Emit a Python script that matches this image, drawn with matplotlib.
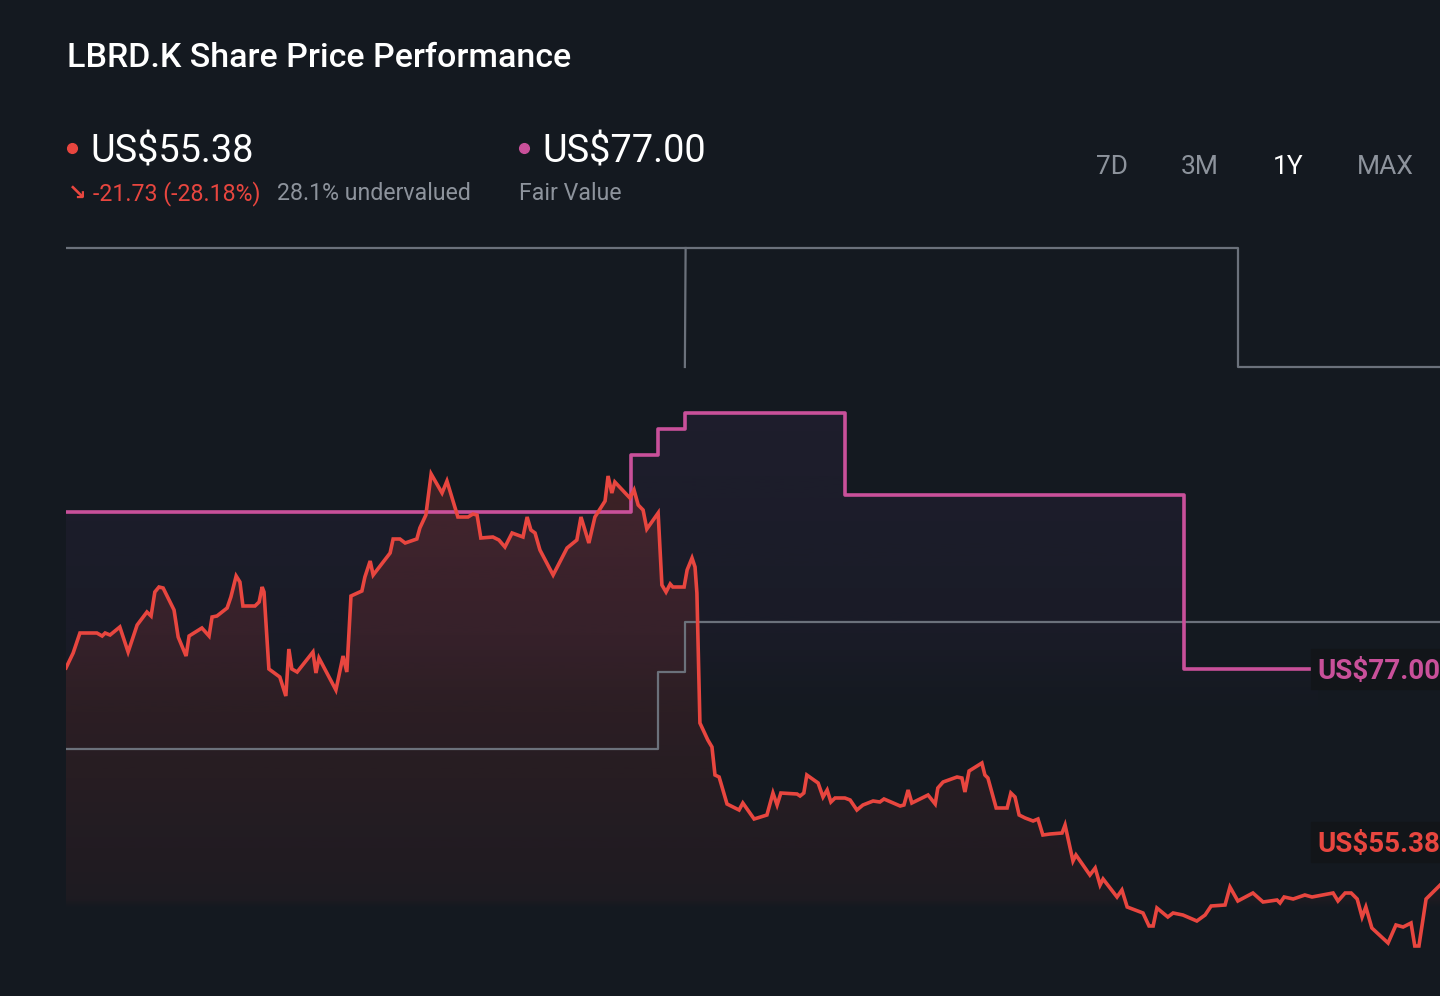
import matplotlib
import numpy as np

matplotlib.use("Agg")

import matplotlib.pyplot as plt
from matplotlib.colors import to_rgb
from matplotlib.lines import Line2D
from matplotlib.patches import Rectangle

plt.rcParams["font.family"] = ["Roboto", "DejaVu Sans"]

BG = "#141920"
RED = "#e8463f"
PINK = "#c9509a"
GREY = "#6b717b"
TXT_GREY = "#8d939c"

# share price, days since start of the 1Y window
price_day = [
    0, 1.9, 3.7, 8.2, 9.6, 10.4, 11.7, 14.3, 16.5, 18.9, 21.5, 22.6, 23.6, 24.7,
    25.8, 28.7, 29.8, 31.9, 32.7, 36.1, 38.0, 38.8, 40.1, 42.8, 43.8, 45.2, 46.2,
    47.0, 50.2, 51.3, 52.1, 52.6, 53.9, 56.8, 58.4, 59.2, 60.0, 61.4, 65.6, 66.4,
    67.2, 71.7, 73.6, 74.6, 75.7, 78.6, 79.4, 80.8, 81.6, 86.1, 86.9, 88.7, 90.1,
    93.2, 94.0, 95.6, 97.0, 99.9, 101.2, 104.1, 106.8, 108.1, 109.2, 110.2, 113.4,
    115.0, 116.6, 118.5, 121.4, 122.5, 123.5, 124.6, 125.9, 129.4, 133.1, 135.7,
    136.8, 138.9, 140.5, 143.2, 144.0, 145.0, 145.8, 149.8, 150.9, 152.0, 153.3,
    154.3, 157.3, 158.3, 159.4, 160.5, 161.2, 164.2, 165.0, 166.3, 167.1, 167.6,
    168.4, 170.5, 171.6, 172.4, 173.5, 175.6, 178.8, 179.8, 182.8, 186.2, 187.8,
    188.9, 189.9, 194.2, 195.0, 196.0, 196.8, 199.8, 201.1, 202.2, 203.2, 204.3,
    206.9, 208.3, 210.1, 211.7, 214.4, 216.2, 217.3, 221.6, 222.6, 223.7, 224.7,
    229.0, 230.9, 231.6, 233.0, 236.7, 238.0, 238.8, 239.9, 243.3, 244.1, 244.9,
    247.1, 250.0, 251.0, 252.1, 253.2, 254.8, 256.9, 258.2, 259.5, 261.4, 264.6,
    265.4, 267.5, 268.3, 272.0, 273.4, 274.7, 275.5, 279.2, 280.5, 281.9, 286.1,
    287.7, 288.8, 289.8, 292.7, 294.1, 296.7, 300.4, 302.6, 304.2, 307.9, 309.2,
    311.3, 315.3, 318.0, 321.7, 322.5, 323.6, 326.0, 329.1, 331.0, 336.6, 337.9,
    339.8, 341.4, 343.0, 344.3, 345.3, 346.9, 351.2, 353.3, 355.2, 357.3, 358.3,
    359.4, 361.3, 364.5, 365.0,
]
price = [
    77.11, 78.6, 80.6, 80.6, 80.3, 80.6, 80.4, 81.2, 78.7, 81.4, 82.7, 82.3, 84.7,
    85.2, 85.1, 82.9, 80.2, 78.3, 80.3, 81.1, 80.3, 82.2, 82.3, 83.1, 84.2, 86.3,
    85.7, 83.3, 83.3, 83.7, 85.2, 84.7, 77.0, 76.2, 74.3, 79.0, 77.0, 76.7, 78.7,
    76.6, 78.1, 74.9, 78.3, 76.7, 84.3, 84.8, 86.2, 87.8, 86.4, 88.6, 90.0, 90.0,
    89.6, 90.0, 91.1, 92.4, 96.5, 94.6, 95.8, 92.2, 92.2, 92.5, 92.4, 90.1, 90.2,
    89.9, 89.2, 90.6, 90.2, 92.2, 90.9, 90.6, 88.9, 86.4, 89.1, 89.9, 92.2, 89.6,
    92.2, 93.8, 96.3, 94.6, 95.7, 94.1, 94.9, 93.4, 92.9, 91.0, 92.6, 85.4, 84.7,
    85.5, 85.2, 85.2, 86.9, 88.1, 87.2, 84.6, 71.6, 69.9, 69.2, 66.4, 66.2, 63.5,
    62.9, 63.6, 62.0, 62.4, 64.6, 63.4, 64.6, 64.5, 64.3, 64.6, 66.4, 65.6, 64.2,
    64.9, 63.7, 64.1, 64.1, 63.9, 62.9, 63.4, 63.8, 63.7, 64.0, 63.3, 63.4, 64.9,
    63.6, 64.4, 63.5, 65.1, 65.7, 66.2, 66.1, 64.7, 66.8, 67.6, 66.4, 66.1, 63.1,
    63.1, 64.6, 64.2, 62.4, 62.1, 61.8, 62.0, 60.4, 60.5, 60.6, 61.4, 57.8, 58.4,
    56.4, 57.1, 55.4, 56.0, 54.2, 54.9, 53.2, 52.6, 51.3, 51.3, 53.1, 52.2, 52.6,
    52.4, 51.8, 52.4, 53.3, 53.4, 55.2, 53.8, 54.6, 53.7, 53.9, 53.6, 54.2, 54.0,
    54.4, 54.2, 54.6, 53.8, 54.6, 54.6, 54.0, 52.2, 53.2, 51.1, 49.6, 51.4, 51.2,
    51.6, 49.3, 49.3, 54.0, 55.2, 55.38,
]

# fair value estimate (step line)
fv_day = [0, 150.1, 157.3, 164.4, 206.9, 297.0, 332.5]
fv = [92.7, 98.4, 101.0, 102.6, 94.4, 77.0, 77.0]

# analyst target range (grey step lines)
hi_day = [0, 311.3, 365]
hi = [119.1, 107.2, 107.2]
hi2_day = [164.4, 164.6]
hi2 = [107.2, 119.1]
lo_day = [0, 157.3, 164.4, 365]
lo = [69.0, 76.7, 81.7, 81.7]

Y_TOP, Y_BOT = 120.9, 47.9


def grad_fill(ax, x, y, color, stops, alphas, step=None):
    poly = ax.fill_between(x, y, Y_BOT, step=step, facecolor="none",
                           edgecolor="none")
    path = poly.get_paths()[0]
    levels = np.linspace(Y_TOP, Y_BOT, 600)
    img = np.zeros((600, 1, 4))
    img[:, :, :3] = to_rgb(color)
    img[:, 0, 3] = np.interp(levels, stops, alphas)
    im = ax.imshow(img, aspect="auto", origin="upper",
                   extent=[x[0], x[-1], Y_BOT, Y_TOP], zorder=1)
    im.set_clip_path(path, transform=ax.transData)


fig = plt.figure(figsize=(14.4, 9.96), dpi=100)
fig.patch.set_facecolor(BG)

ax = fig.add_axes([66 / 1440, 1 - 960 / 996, 1 - 66 / 1440, 730 / 996])
ax.set_facecolor("#161b23")
ax.set_xlim(0, 365)
ax.set_ylim(Y_BOT, Y_TOP)
ax.axis("off")

grad_fill(ax, fv_day, fv, "#8a4fb0", [72, 80, 103], [0.0, 0.05, 0.09],
          step="post")
grad_fill(ax, price_day, price, RED, [53.0, 54.0, 66, 97],
          [0.0, 0.05, 0.09, 0.2])

ax.plot(hi_day, hi, drawstyle="steps-post", color=GREY, lw=1.6, zorder=2)
ax.plot(hi2_day, hi2, color=GREY, lw=1.6, zorder=2)
ax.plot(lo_day, lo, drawstyle="steps-post", color=GREY, lw=1.6, zorder=2)
ax.plot(fv_day, fv, drawstyle="steps-post", color=PINK, lw=2.6, zorder=3)
ax.plot(price_day, price, color=RED, lw=2.6, zorder=4, solid_joinstyle="miter")


def fx(px):
    return px / 1440


def fy(py):
    return 1 - py / 996


fig.text(fx(67), fy(67), "LBRD.K Share Price Performance", color="white",
         fontsize=24.5, fontweight="medium")

fig.add_artist(Line2D([fx(72)], [fy(148)], marker="o", markersize=7,
                      color=RED, transform=fig.transFigure))
fig.text(fx(90), fy(162), "US$55.38", color="white", fontsize=27.3)
fig.text(fx(68), fy(200), "↘", color=RED, fontsize=16, fontweight="bold",
         family=["DejaVu Sans"])
fig.text(fx(93), fy(200), "-21.73 (-28.18%)", color=RED, fontsize=16.7)
fig.text(fx(277), fy(200), "28.1% undervalued", color=TXT_GREY, fontsize=16.7)

fig.add_artist(Line2D([fx(524)], [fy(148)], marker="o", markersize=7,
                      color=PINK, transform=fig.transFigure))
fig.text(fx(542), fy(162), "US$77.00", color="white", fontsize=27.3)
fig.text(fx(519), fy(200), "Fair Value", color=TXT_GREY, fontsize=16.7)

for lbl, cx in [("7D", 1112), ("3M", 1200), ("1Y", 1288), ("MAX", 1385)]:
    fig.text(fx(cx), fy(174), lbl, color="white" if lbl == "1Y" else TXT_GREY,
             fontsize=19, ha="center")

for val, py, col in [("US$77.00", 669, PINK), ("US$55.38", 842, RED)]:
    fig.add_artist(Rectangle((fx(1311), fy(py + 20)), fx(140), 40 / 996,
                             transform=fig.transFigure, color="#121519",
                             zorder=5))
    fig.text(fx(1317), fy(py + 10), val, color=col, fontsize=20,
             fontweight="bold", zorder=6)

fig.savefig("out.png", dpi=100, facecolor=BG)
